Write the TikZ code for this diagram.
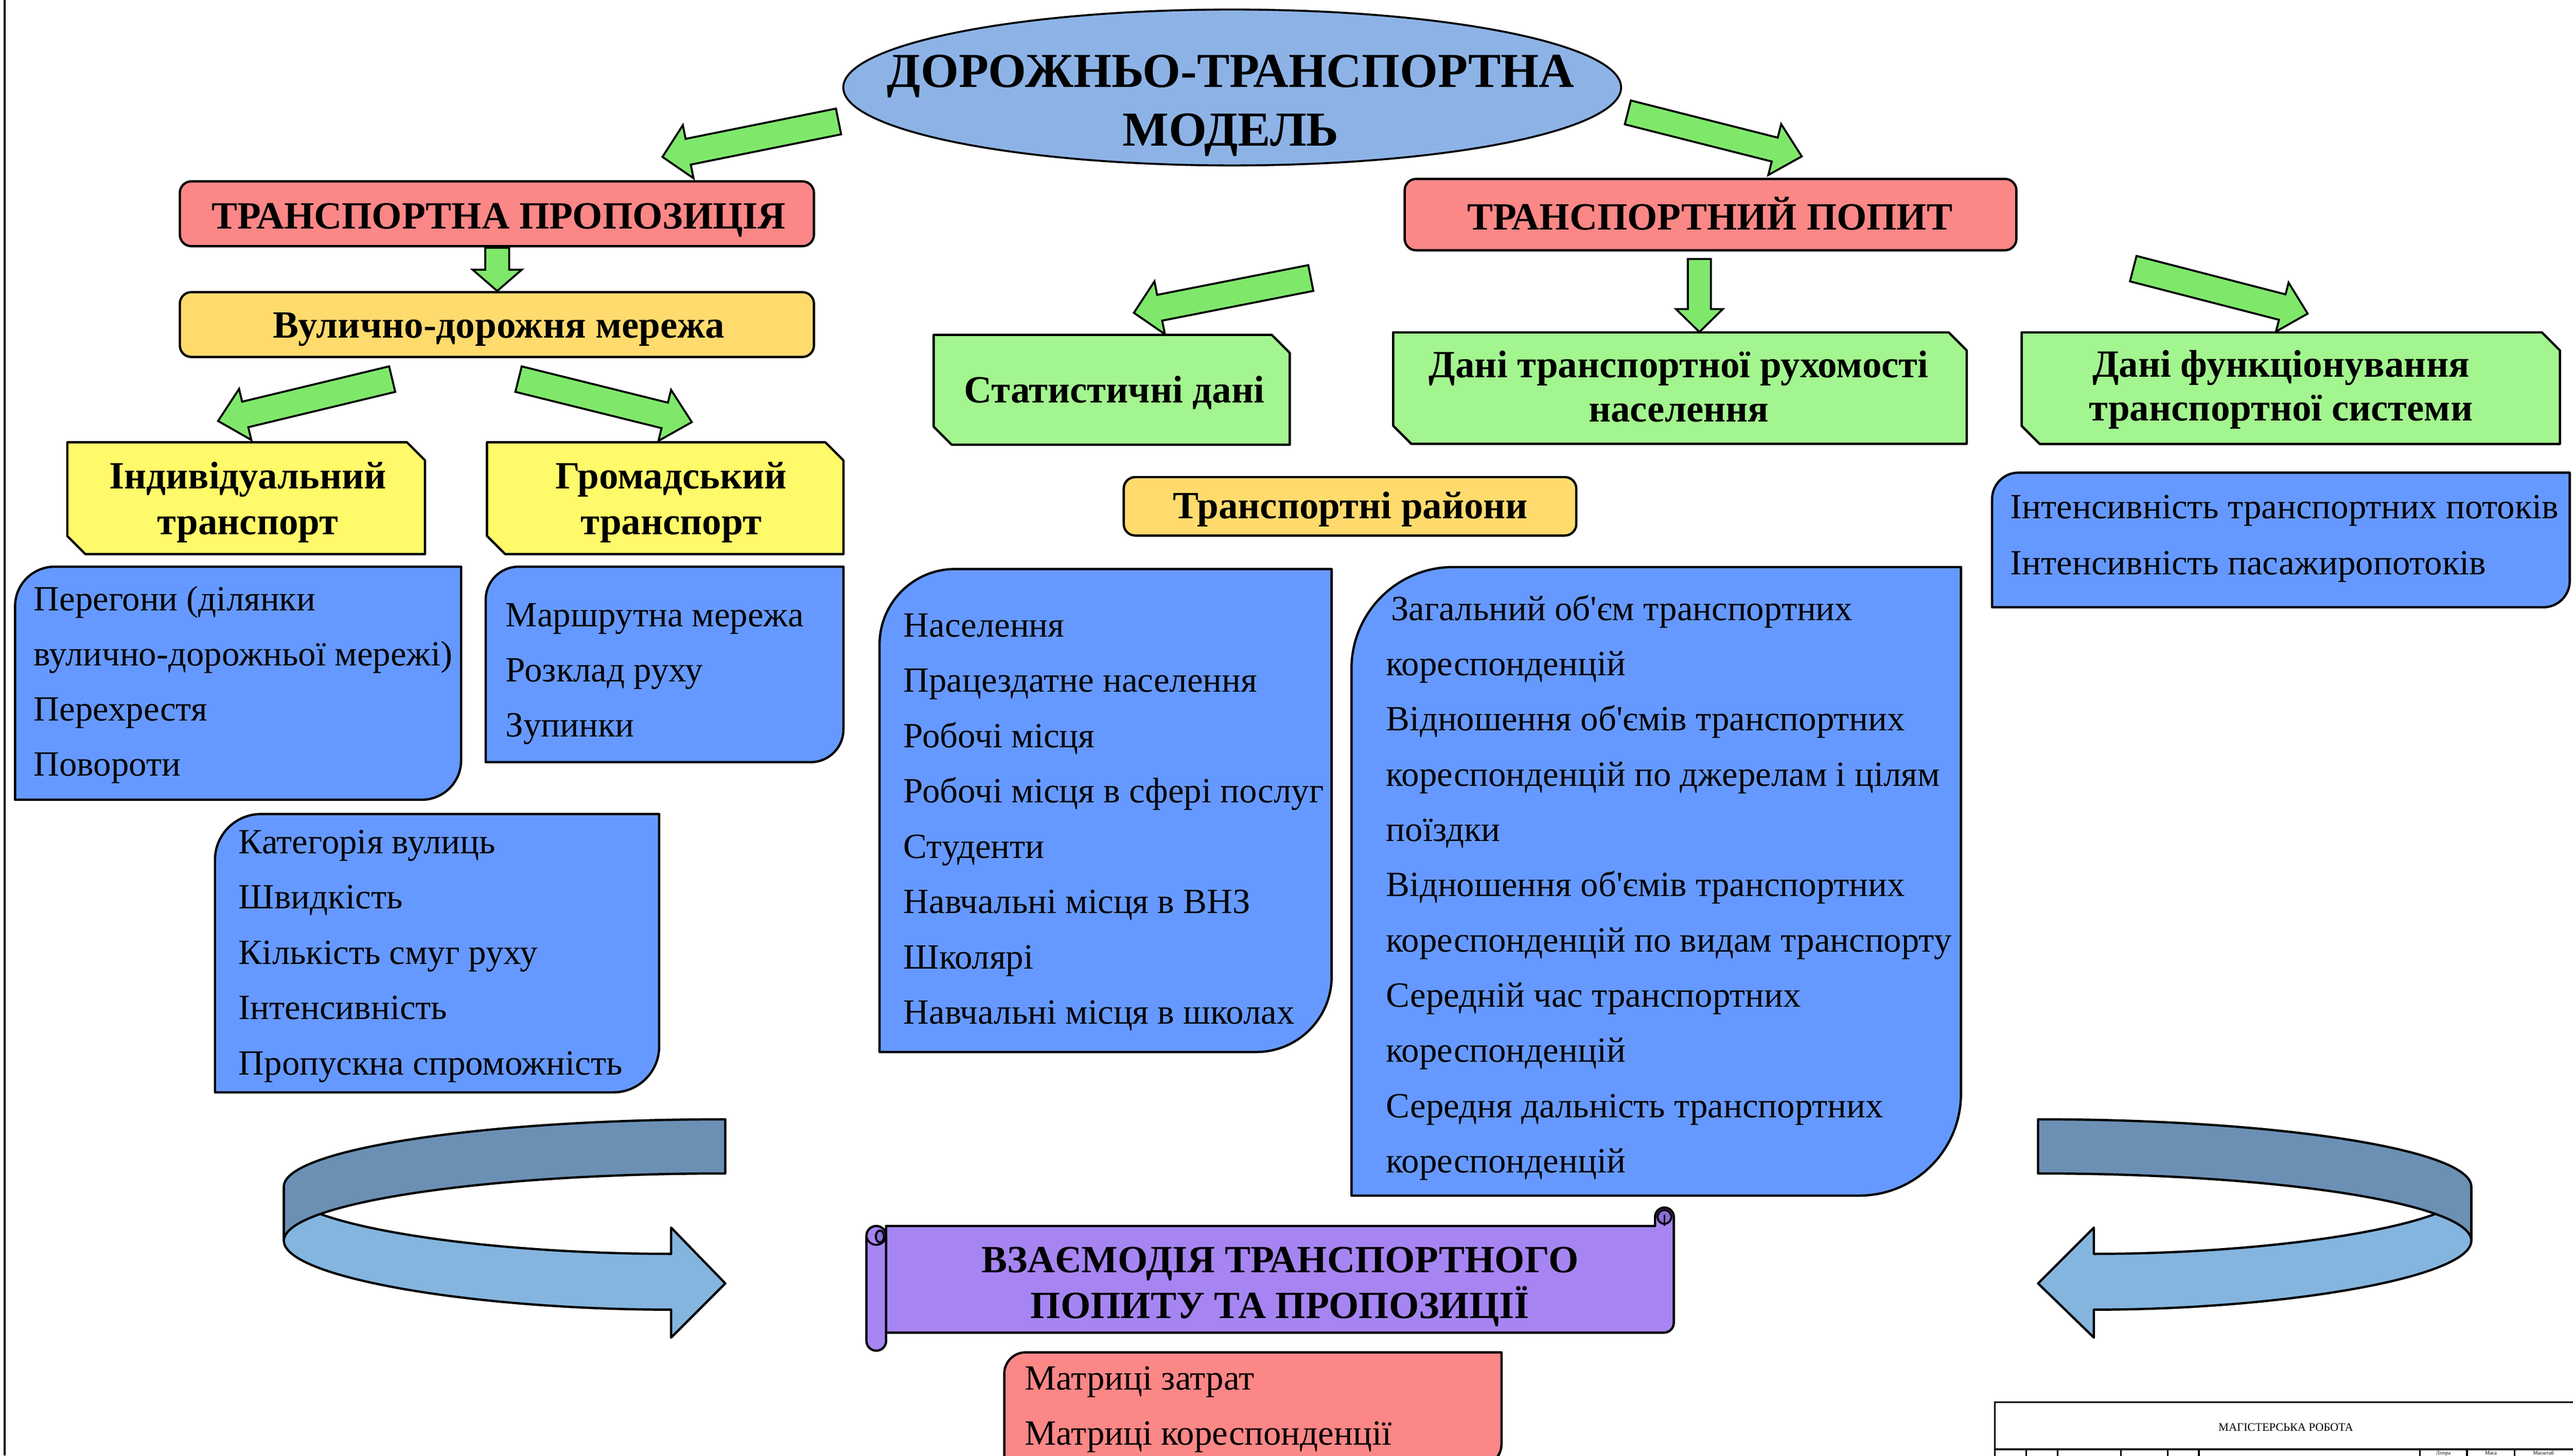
\documentclass[tikz,border=0pt]{standalone}
\usepackage{fontspec}
\setmainfont{Liberation Serif}[Ligatures=TeXOff]
\usetikzlibrary{calc,shapes.geometric}
\definecolor{ellblue}{RGB}{141,179,230}
\definecolor{salmon}{RGB}{252,135,135}
\definecolor{amber}{RGB}{255,219,110}
\definecolor{lemon}{RGB}{255,250,106}
\definecolor{lgreen}{RGB}{163,245,143}
\definecolor{boxblue}{RGB}{102,153,255}
\definecolor{scroll}{RGB}{166,133,242}
\definecolor{scrolldark}{RGB}{138,111,214}
\definecolor{ribdark}{RGB}{107,144,180}
\definecolor{riblight}{RGB}{132,181,222}
\definecolor{arrgreen}{RGB}{127,232,107}
\tikzset{
  ol/.style={draw=black, line width=1.4pt, line join=round},
  garrow/.style={draw=black, line width=1.2pt, fill=arrgreen, line join=miter},
  hdr/.style={font={\bfseries\fontsize{23.5}{28}\selectfont}, inner sep=0pt, anchor=base},
  bighdr/.style={font={\bfseries\fontsize{29.8}{34}\selectfont}, inner sep=0pt, anchor=base},
  body/.style={font={\fontsize{21.6}{25}\selectfont}, inner sep=0pt, anchor=base west},
  tiny/.style={font={\fontsize{7}{8}\selectfont}, inner sep=0pt, anchor=base},
}
% block arrow: tail, tip, shaft half width, head half width, head length
\newcommand\blockarrow[5]{%
  \coordinate (ba-h) at ($(#2)!#5pt!(#1)$);
  \draw[garrow] ($(#1)!#3pt!90:(#2)$) -- ($(ba-h)!#3pt!-90:(#1)$) -- ($(ba-h)!#4pt!-90:(#1)$) -- (#2)
    -- ($(ba-h)!#4pt!90:(#1)$) -- ($(ba-h)!#3pt!90:(#1)$) -- ($(#1)!#3pt!-90:(#2)$) -- cycle;}
% snipped diagonal box: x1 y1 x2 y2 cut colour
\newcommand\snipbox[6]{%
  \draw[ol, fill=#6] (#1,#2) -- ({#3-#5},#2) -- (#3,{#2+#5}) -- (#3,#4) -- ({#1+#5},#4) -- (#1,{#4-#5}) -- cycle;}
% round diagonal box: x1 y1 x2 y2 radius colour
\newcommand\rdbox[6]{%
  \draw[ol, fill=#6] (#1,#4) -- (#1,{#2+#5}) .. controls (#1,{#2+0.448*#5}) and ({#1+0.448*#5},#2) .. ({#1+#5},#2)
    -- (#3,#2) -- (#3,{#4-#5}) .. controls (#3,{#4-0.448*#5}) and ({#3-0.448*#5},#4) .. ({#3-#5},#4) -- cycle;}
% list of lines: name x y0 step items
\newcommand\items[5]{%
  \foreach \t [count=\i] in {#5} {\node[body] (#1-\i) at (#2,{#3+(\i-1)*#4}) {\t};}}
\begin{document}
\begin{tikzpicture}[x=1pt,y=-1pt]
\useasboundingbox (0,0) rectangle (1568,887);
\fill[white] (0,0) rectangle (1568,887);
\draw[line width=1pt] (2.8,0) -- (2.8,887);

% ---- top ellipse
\node[ellipse, draw=black, line width=1.2pt, fill=ellblue, minimum width=474pt, minimum height=95pt, inner sep=0pt] (model) at (750.9,53.3) {};
\node[bighdr] (model1) at (750,53.3) {ДОРОЖНЬО-ТРАНСПОРТНА};
\node[bighdr] (model2) at (750,89) {МОДЕЛЬ};

% ---- red headers
\draw[ol, fill=salmon, rounded corners=7pt] (109.6,110.5) rectangle (496,150);
\node[hdr] (supply) at (304,139.5) {ТРАНСПОРТНА ПРОПОЗИЦІЯ};
\draw[ol, fill=salmon, rounded corners=7pt] (856,109) rectangle (1228.8,152.5);
\node[hdr] (demand) at (1042,140) {ТРАНСПОРТНИЙ ПОПИТ};

% ---- amber boxes
\draw[ol, fill=amber, rounded corners=7pt] (109.6,178) rectangle (496,217.5);
\node[hdr] (network) at (304,205.8) {Вулично-дорожня мережа};
\draw[ol, fill=amber, rounded corners=7pt] (684.8,290.7) rectangle (960.6,326.3);
\node[hdr] (zones) at (823,316) {Транспортні райони};

% ---- snipped yellow boxes
\snipbox{41}{269.5}{259}{337.6}{11}{lemon}
\node[hdr] (indiv1) at (151,297.7) {Індивідуальний};
\node[hdr] (indiv2) at (151,325.8) {транспорт};
\snipbox{296.8}{269.5}{514}{337.6}{11}{lemon}
\node[hdr] (public1) at (409,297.7) {Громадський};
\node[hdr] (public2) at (409,325.8) {транспорт};

% ---- snipped green boxes
\snipbox{569}{204}{786}{271}{11}{lgreen}
\node[hdr] (stat) at (679,245.5) {Статистичні дані};
\snipbox{849}{202.5}{1198.5}{270.4}{11}{lgreen}
\node[hdr] (mob1) at (1023,230) {Дані транспортної рухомості};
\node[hdr] (mob2) at (1023,257) {населення};
\snipbox{1232}{202.5}{1560}{270.5}{11}{lgreen}
\node[hdr] (func1) at (1390,229.8) {Дані функціонування};
\node[hdr] (func2) at (1390,256.5) {транспортної системи};

% ---- blue boxes
\rdbox{9.2}{345.3}{281}{487.3}{24}{boxblue}
\items{ind}{20.4}{372}{33.6}{Перегони (ділянки, вулично-дорожньої мережі), Перехрестя, Повороти}
\rdbox{296}{345.3}{514}{464.4}{20}{boxblue}
\items{pub}{308}{381.7}{33.6}{Маршрутна мережа, Розклад руху, Зупинки}
\rdbox{131}{496}{401.7}{665.6}{28}{boxblue}
\items{str}{145.3}{520}{33.7}{Категорія вулиць, Швидкість, Кількість смуг руху, Інтенсивність, Пропускна спроможність}
\rdbox{536}{346.7}{811.5}{641}{46}{boxblue}
\items{zon}{550.4}{388}{33.7}{Населення, Працездатне населення, Робочі місця, Робочі місця в сфері послуг, Студенти, Навчальні місця в ВНЗ, Школярі, Навчальні місця в школах}
\rdbox{823.6}{345.5}{1195}{728.5}{62}{boxblue}
\items{cor}{844.6}{378}{33.65}{{\hspace{3pt}Загальний об'єм транспортних}, кореспонденцій, Відношення об'ємів транспортних, кореспонденцій по джерелам і цілям, поїздки, Відношення об'ємів транспортних, кореспонденцій по видам транспорту, Середній час транспортних, кореспонденцій, Середня дальність транспортних, кореспонденцій}
\rdbox{1214}{288}{1566}{370}{16}{boxblue}
\items{flw}{1225}{316.1}{34.1}{Інтенсивність транспортних потоків, Інтенсивність пасажиропотоків}

% ---- green block arrows
\coordinate (a1t) at (511,74);      \coordinate (a1h) at (403.7,95.6);
\coordinate (a2t) at (992,68.5);    \coordinate (a2h) at (1098,95.3);
\coordinate (a3t) at (303,151);     \coordinate (a3h) at (303,177.3);
\coordinate (a4t) at (239,231);     \coordinate (a4h) at (132.9,256.5);
\coordinate (a5t) at (316,231);     \coordinate (a5h) at (421.6,257.2);
\coordinate (a6t) at (798.8,169.4); \coordinate (a6h) at (691,190.6);
\coordinate (a7t) at (1035.6,157.8);\coordinate (a7h) at (1035.6,202.3);
\coordinate (a8t) at (1300,163.7);  \coordinate (a8h) at (1406.3,191.1);
\blockarrow{a1t}{a1h}{8}{16.5}{16}
\blockarrow{a2t}{a2h}{7.5}{16}{17}
\blockarrow{a3t}{a3h}{7.3}{15}{13}
\blockarrow{a4t}{a4h}{8}{16}{17}
\blockarrow{a5t}{a5h}{8}{16}{17}
\blockarrow{a6t}{a6h}{8}{16.4}{16}
\blockarrow{a7t}{a7h}{7}{14.3}{14}
\blockarrow{a8t}{a8h}{8}{15.4}{16}

% ---- circular ribbon arrows
\draw[ol, fill=riblight] (173,723) .. controls (173,745.6) and (290,764) .. (409,764) -- (409,748) -- (442,782)
  -- (409,815) -- (409,798) .. controls (290,798) and (173,778.6) .. (173,756) -- cycle;
\draw[ol, fill=ribdark] (442,682) .. controls (293.5,682) and (173,700.4) .. (173,723) -- (173,756)
  .. controls (173,733.4) and (293.5,715) .. (442,715) -- cycle;
\draw[ol, fill=riblight] (1506,723) .. controls (1506,745.6) and (1390,764) .. (1276,764) -- (1276,748) -- (1242,782)
  -- (1276,815) -- (1276,798) .. controls (1390,798) and (1506,778.6) .. (1506,756) -- cycle;
\draw[ol, fill=ribdark] (1242,682) .. controls (1387.7,682) and (1506,700.4) .. (1506,723) -- (1506,756)
  .. controls (1506,733.4) and (1387.7,715) .. (1242,715) -- cycle;

% ---- scroll
\draw[ol, fill=scroll] (540,747) -- (1008.6,747) -- (1008.6,741.5) arc[start angle=180, end angle=360, radius=5.7]
  -- (1020,806) .. controls (1020,809.3) and (1017.3,812) .. (1014,812) -- (540,812) -- cycle;
\draw[line width=1.2pt, fill=scrolldark] (1014.3,741.5) circle (4.2);
\draw[line width=1.2pt] (1014.3,740) -- (1014.3,747);
\draw[ol, fill=scroll, rounded corners=6pt] (528,747) rectangle (540,823);
\draw[line width=1.2pt] (528,752.5) arc[start angle=180, end angle=0, radius=6];
\draw[line width=1.2pt, fill=scrolldark] (536.2,753.4) ellipse [x radius=2.5, y radius=3.6];
\node[hdr] (inter1) at (780,775.4) {ВЗАЄМОДІЯ ТРАНСПОРТНОГО};
\node[hdr] (inter2) at (780,803.3) {ПОПИТУ ТА ПРОПОЗИЦІЇ};

% ---- matrices
\rdbox{612}{824}{915}{893}{13}{salmon}
\items{mat}{624.3}{846.9}{33.5}{Матриці затрат, Матриці кореспонденції}

% ---- title block
\draw[line width=1pt] (1575,854.4) -- (1215.7,854.4) -- (1215.7,895);
\draw[line width=1pt] (1215.7,883.1) -- (1575,883.1);
\foreach \xx in {1234.7,1254,1292.5,1321,1340,1474.7,1503.4,1532.4}
  \draw[line width=1pt] (\xx,883.1) -- (\xx,895);
\node[tiny] (work) at (1393,871.8) {МАГІСТЕРСЬКА РОБОТА};
\node[tiny, font={\fontsize{3.2}{4}\selectfont}] (lit) at (1489,886.3) {Літера};
\node[tiny, font={\fontsize{3.2}{4}\selectfont}] (mass) at (1518,886.3) {Маса};
\node[tiny, font={\fontsize{3.2}{4}\selectfont}] (scale) at (1550,886.3) {Масштаб};
\end{tikzpicture}
\end{document}
